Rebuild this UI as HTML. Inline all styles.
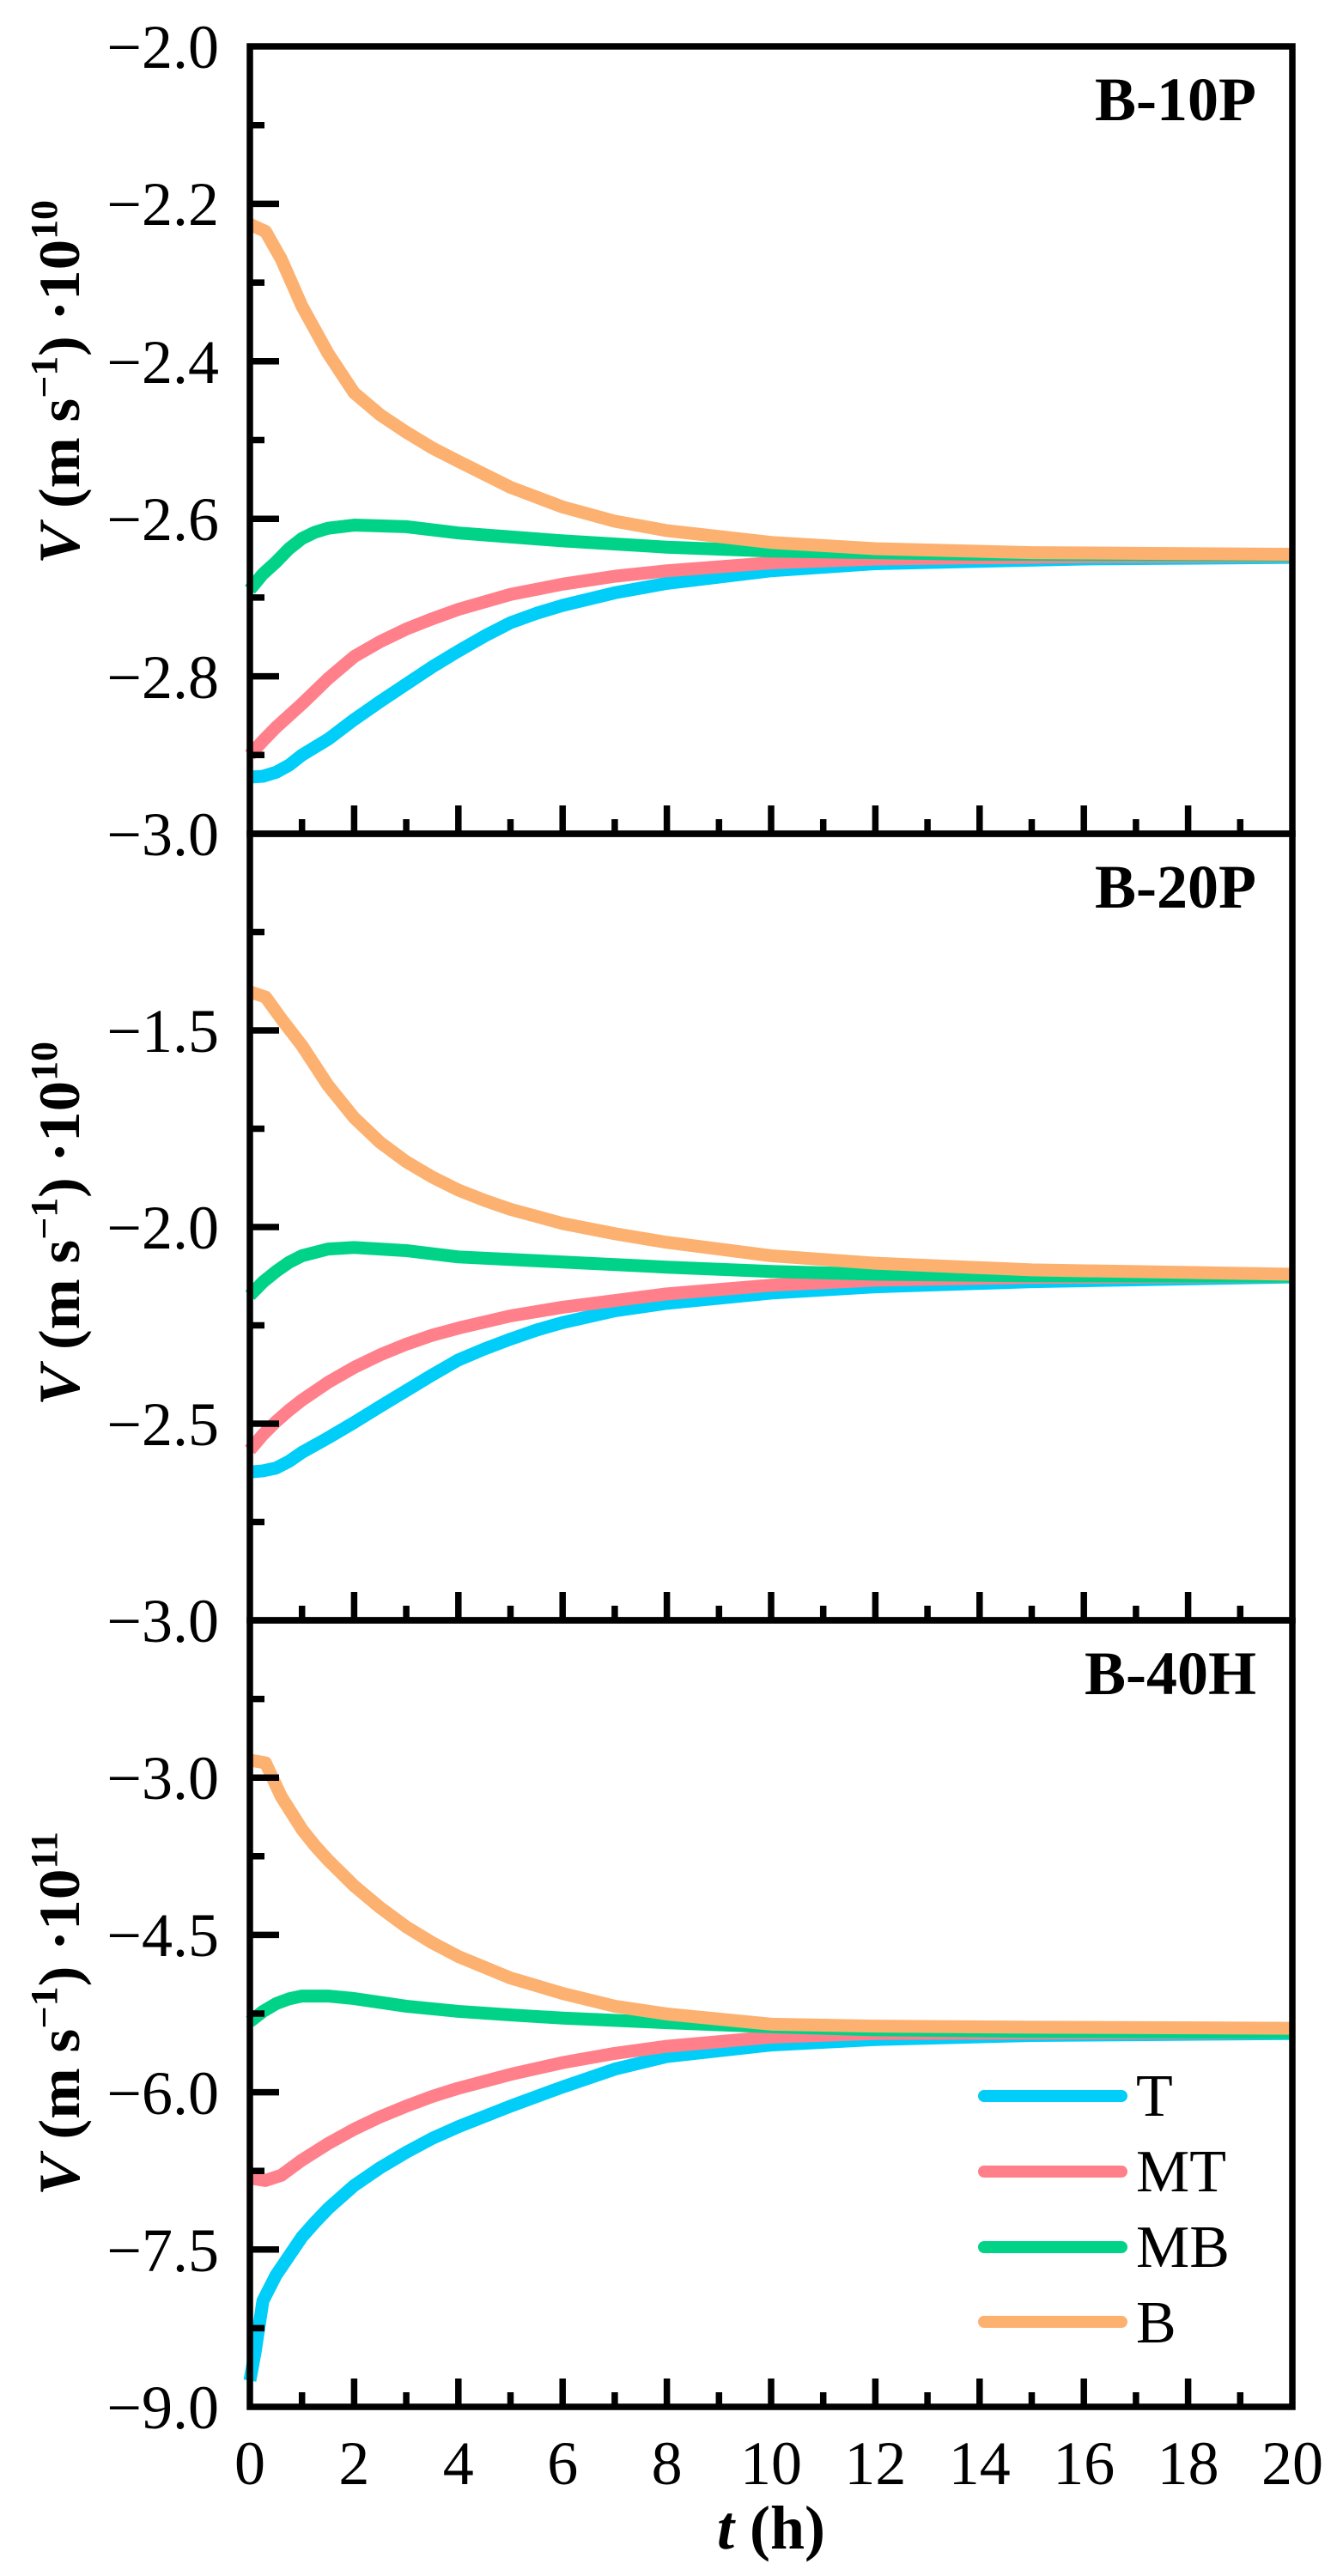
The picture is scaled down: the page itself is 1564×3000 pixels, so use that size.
<!DOCTYPE html>
<html><head><meta charset="utf-8"><style>
html,body{margin:0;padding:0;background:#fff;}
svg{display:block;}
text{font-family:"Liberation Serif",serif;fill:#000;}
</style></head><body>
<svg width="1564" height="3000" viewBox="0 0 1564 3000" xmlns="http://www.w3.org/2000/svg">
<defs>
<path id="xt" d="M351.7 0v-17M412.4 0v-33M473.1 0v-17M533.8 0v-33M594.5 0v-17M655.2 0v-33M715.9 0v-17M776.6 0v-33M837.3 0v-17M898 0v-33M958.7 0v-17M1019.4 0v-33M1080.1 0v-17M1140.8 0v-33M1201.5 0v-17M1262.2 0v-33M1322.9 0v-17M1383.6 0v-33M1444.3 0v-17" stroke="#000" stroke-width="7.5" fill="none"/>
</defs>
<g fill="none" stroke-linejoin="round" stroke-linecap="butt">
<!-- Panel 1 -->
<g transform="translate(291,54) scale(60.7,917)">
<polyline vector-effect="non-scaling-stroke" stroke="#00cdf8" stroke-width="15" points="0,0.928 0.25,0.927 0.5,0.922 0.75,0.913 1,0.9 1.5,0.88 2,0.855 2.5,0.832 3,0.81 3.5,0.788 4,0.768 4.5,0.749 5,0.732 5.5,0.72 6,0.71 7,0.694 8,0.682 10,0.666 12,0.657 16,0.651 20,0.649"/>
<polyline vector-effect="non-scaling-stroke" stroke="#ff808b" stroke-width="15" points="0,0.9 0.25,0.882 0.5,0.865 0.75,0.85 1,0.835 1.5,0.803 2,0.775 2.5,0.756 3,0.74 3.5,0.727 4,0.715 5,0.696 6,0.683 7,0.673 8,0.666 10,0.656 12,0.651 16,0.648 20,0.647"/>
<polyline vector-effect="non-scaling-stroke" stroke="#00d388" stroke-width="15" points="0,0.69 0.25,0.67 0.5,0.655 0.75,0.638 1,0.625 1.25,0.617 1.5,0.612 2,0.608 3,0.61 4,0.618 6,0.628 8,0.636 10,0.641 14,0.645 20,0.646"/>
<polyline vector-effect="non-scaling-stroke" stroke="#fcb170" stroke-width="15" points="0,0.226 0.3,0.235 0.6,0.27 1,0.33 1.5,0.39 2,0.44 2.5,0.468 3,0.49 3.5,0.51 4,0.527 5,0.56 6,0.585 7,0.603 8,0.615 10,0.63 12,0.638 15,0.643 20,0.645"/>
</g>
<!-- Panel 2 -->
<g transform="translate(291,971) scale(60.7,458)">
<polyline vector-effect="non-scaling-stroke" stroke="#00cdf8" stroke-width="15" points="0,1.623 0.25,1.62 0.5,1.613 0.75,1.596 1,1.573 1.5,1.536 2,1.497 2.5,1.456 3,1.416 3.5,1.376 4,1.338 4.5,1.31 5,1.285 5.5,1.262 6,1.243 7,1.213 8,1.194 10,1.168 12,1.152 15,1.139 20,1.127"/>
<polyline vector-effect="non-scaling-stroke" stroke="#ff808b" stroke-width="15" points="0,1.567 0.25,1.528 0.5,1.495 0.75,1.466 1,1.44 1.5,1.395 2,1.357 2.5,1.325 3,1.298 3.5,1.275 4,1.257 5,1.226 6,1.204 8,1.17 10,1.148 12,1.135 15,1.128 20,1.125"/>
<polyline vector-effect="non-scaling-stroke" stroke="#00d388" stroke-width="15" points="0,1.174 0.25,1.14 0.5,1.113 0.75,1.09 1,1.073 1.5,1.056 2,1.052 3,1.06 4,1.076 6,1.089 8,1.102 10,1.113 12,1.12 15,1.124 20,1.125"/>
<polyline vector-effect="non-scaling-stroke" stroke="#fcb170" stroke-width="15" points="0,0.402 0.3,0.415 0.6,0.47 1,0.539 1.5,0.64 2,0.722 2.5,0.785 3,0.834 3.5,0.873 4,0.906 4.5,0.932 5,0.955 6,0.991 7,1.017 8,1.039 10,1.073 12,1.092 15,1.109 20,1.12"/>
</g>
<!-- Panel 3 -->
<g transform="translate(291,1887) scale(60.7,122.13)">
<polyline vector-effect="non-scaling-stroke" stroke="#00cdf8" stroke-width="15" points="0,7.25 0.1,6.98 0.25,6.49 0.5,6.246 1,5.88 1.25,5.74 1.5,5.61 2,5.39 2.5,5.22 3,5.073 3.5,4.94 4,4.829 5,4.633 6,4.45 7,4.28 8,4.16 10,4.05 12,3.998 15,3.959 20,3.94"/>
<polyline vector-effect="non-scaling-stroke" stroke="#ff808b" stroke-width="15" points="0,5.318 0.3,5.342 0.6,5.293 1,5.147 1.5,4.99 2,4.853 2.5,4.735 3,4.633 3.5,4.54 4,4.462 5,4.33 6,4.218 7,4.13 8,4.062 10,3.974 12,3.94 15,3.935 20,3.93"/>
<polyline vector-effect="non-scaling-stroke" stroke="#00d388" stroke-width="15" points="0,3.827 0.25,3.73 0.5,3.656 0.75,3.61 1,3.583 1.5,3.583 2,3.607 3,3.68 4,3.729 5,3.763 6,3.793 8,3.837 10,3.876 12,3.905 15,3.92 20,3.93"/>
<polyline vector-effect="non-scaling-stroke" stroke="#fcb170" stroke-width="15" points="0,1.334 0.3,1.359 0.6,1.68 1,1.994 1.25,2.15 1.5,2.287 2,2.532 2.5,2.74 3,2.923 3.5,3.075 4,3.206 5,3.411 6,3.558 7,3.68 8,3.754 10,3.851 12,3.87 15,3.88 20,3.89"/>
</g>
</g>

<!-- Frames -->
<g fill="none" stroke="#000" stroke-width="7.5">
<rect x="291" y="54" width="1214" height="917"/>
<rect x="291" y="971" width="1214" height="916"/>
<rect x="291" y="1887" width="1214" height="916"/>
<path d="M291 237.4h34M291 420.8h34M291 604.2h34M291 787.6h34M291 145.7h17M291 329.1h17M291 512.5h17M291 695.9h17M291 879.3h17"/>
<path d="M291 1200h34M291 1429h34M291 1658h34M291 1085.5h17M291 1314.5h17M291 1543.5h17M291 1772.5h17"/>
<path d="M291 2070.2h34M291 2253.4h34M291 2436.6h34M291 2619.8h34M291 1978.6h17M291 2161.8h17M291 2345h17M291 2528.2h17M291 2711.4h17"/>
</g>
<use href="#xt" y="971"/>
<use href="#xt" y="1887"/>
<use href="#xt" y="2803"/>

<!-- Y tick labels -->
<g font-size="72" text-anchor="end">
<text x="255" y="79">−2.0</text>
<text x="255" y="262">−2.2</text>
<text x="255" y="446">−2.4</text>
<text x="255" y="629">−2.6</text>
<text x="255" y="813">−2.8</text>
<text x="255" y="996">−3.0</text>
<text x="255" y="1225">−1.5</text>
<text x="255" y="1454">−2.0</text>
<text x="255" y="1683">−2.5</text>
<text x="255" y="1912">−3.0</text>
<text x="255" y="2095">−3.0</text>
<text x="255" y="2278">−4.5</text>
<text x="255" y="2462">−6.0</text>
<text x="255" y="2645">−7.5</text>
<text x="255" y="2828">−9.0</text>
</g>
<!-- X tick labels -->
<g font-size="72" text-anchor="middle">
<text x="291" y="2893">0</text>
<text x="412.4" y="2893">2</text>
<text x="533.8" y="2893">4</text>
<text x="655.2" y="2893">6</text>
<text x="776.6" y="2893">8</text>
<text x="898" y="2893">10</text>
<text x="1019.4" y="2893">12</text>
<text x="1140.8" y="2893">14</text>
<text x="1262.2" y="2893">16</text>
<text x="1383.6" y="2893">18</text>
<text x="1505" y="2893">20</text>
</g>
<text x="898" y="2968" font-size="72" font-weight="bold" text-anchor="middle"><tspan font-style="italic">t</tspan> (h)</text>

<!-- Panel titles -->
<g font-size="72" font-weight="bold" text-anchor="end">
<text x="1463" y="140">B-10P</text>
<text x="1463" y="1057">B-20P</text>
<text x="1463" y="1973">B-40H</text>
</g>

<!-- Y axis titles -->
<g font-size="68" font-weight="bold" text-anchor="middle">
<text transform="translate(92,445) rotate(-90)" textLength="424" lengthAdjust="spacingAndGlyphs"><tspan font-style="italic">V</tspan> (m s<tspan font-size="44" dy="-26">−1</tspan><tspan dy="26">) ·10</tspan><tspan font-size="44" dy="-26">10</tspan></text>
<text transform="translate(92,1425) rotate(-90)" textLength="424" lengthAdjust="spacingAndGlyphs"><tspan font-style="italic">V</tspan> (m s<tspan font-size="44" dy="-26">−1</tspan><tspan dy="26">) ·10</tspan><tspan font-size="44" dy="-26">10</tspan></text>
<text transform="translate(92,2345) rotate(-90)" textLength="424" lengthAdjust="spacingAndGlyphs"><tspan font-style="italic">V</tspan> (m s<tspan font-size="44" dy="-26">−1</tspan><tspan dy="26">) ·10</tspan><tspan font-size="44" dy="-26">11</tspan></text>
</g>

<!-- Legend -->
<g stroke-width="14" stroke-linecap="round">
<line x1="1146" y1="2441" x2="1306" y2="2441" stroke="#00cdf8"/>
<line x1="1146" y1="2529" x2="1306" y2="2529" stroke="#ff808b"/>
<line x1="1146" y1="2617" x2="1306" y2="2617" stroke="#00d388"/>
<line x1="1146" y1="2704" x2="1306" y2="2704" stroke="#fcb170"/>
</g>
<g font-size="70">
<text x="1323" y="2464">T</text>
<text x="1323" y="2552">MT</text>
<text x="1323" y="2640">MB</text>
<text x="1323" y="2728">B</text>
</g>
</svg>
</body></html>
